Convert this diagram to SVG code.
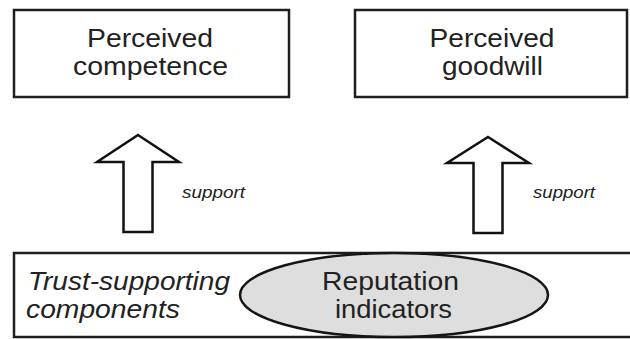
<svg xmlns="http://www.w3.org/2000/svg" width="630" height="339" viewBox="0 0 630 339">
  <style>
    .box { fill: #ffffff; stroke: #1e1e1e; stroke-width: 2.5; }
    .arrow { fill: #ffffff; stroke: #111111; stroke-width: 2.5; stroke-linejoin: miter; }
    .lbl { font-family: "Liberation Sans", Arial, sans-serif; font-size: 25px; fill: #222222; }
    .ital { font-family: "Liberation Sans", Arial, sans-serif; font-style: italic; fill: #222222; }
    .ell { fill: #dedede; stroke: #151515; stroke-width: 2.5; }
  </style>
  <rect width="630" height="339" fill="#ffffff"/>

  <g id="perceived-competence">
    <rect class="box" x="14" y="10" width="275" height="87"/>
    <text class="lbl" x="150" y="47" text-anchor="middle" textLength="126" lengthAdjust="spacingAndGlyphs">Perceived</text>
    <text class="lbl" x="150.5" y="75" text-anchor="middle" textLength="155" lengthAdjust="spacingAndGlyphs">competence</text>
  </g>

  <g id="perceived-goodwill">
    <rect class="box" x="355" y="10" width="272" height="87"/>
    <text class="lbl" x="492" y="47" text-anchor="middle" textLength="125" lengthAdjust="spacingAndGlyphs">Perceived</text>
    <text class="lbl" x="492.5" y="75" text-anchor="middle" textLength="101" lengthAdjust="spacingAndGlyphs">goodwill</text>
  </g>

  <g id="trust-supporting-components">
    <path class="box" d="M632,253 H14 V337 H632"/>
    <text class="ital" font-size="25" x="28" y="290" textLength="202" lengthAdjust="spacingAndGlyphs">Trust-supporting</text>
    <text class="ital" font-size="25" x="26" y="318" textLength="154" lengthAdjust="spacingAndGlyphs">components</text>
  </g>

  <g id="reputation-indicators">
    <ellipse class="ell" cx="394" cy="295" rx="154" ry="42"/>
    <text class="lbl" x="390.5" y="290" text-anchor="middle" textLength="137" lengthAdjust="spacingAndGlyphs">Reputation</text>
    <text class="lbl" x="393.5" y="318" text-anchor="middle" textLength="117" lengthAdjust="spacingAndGlyphs">indicators</text>
  </g>

  <g id="connectors">
    <g id="support-left">
      <path class="arrow" d="M138,135 L179,162 L152.5,162 L152.5,232 L123.5,232 L123.5,162 L97,162 Z"/>
      <text class="ital" font-size="17" x="182" y="198" textLength="63" lengthAdjust="spacingAndGlyphs">support</text>
    </g>
    <g id="support-right">
      <path class="arrow" d="M488,137 L529,163 L502.5,163 L502.5,233 L473.5,233 L473.5,163 L447,163 Z"/>
      <text class="ital" font-size="17" x="533" y="198" textLength="62" lengthAdjust="spacingAndGlyphs">support</text>
    </g>
  </g>
</svg>
